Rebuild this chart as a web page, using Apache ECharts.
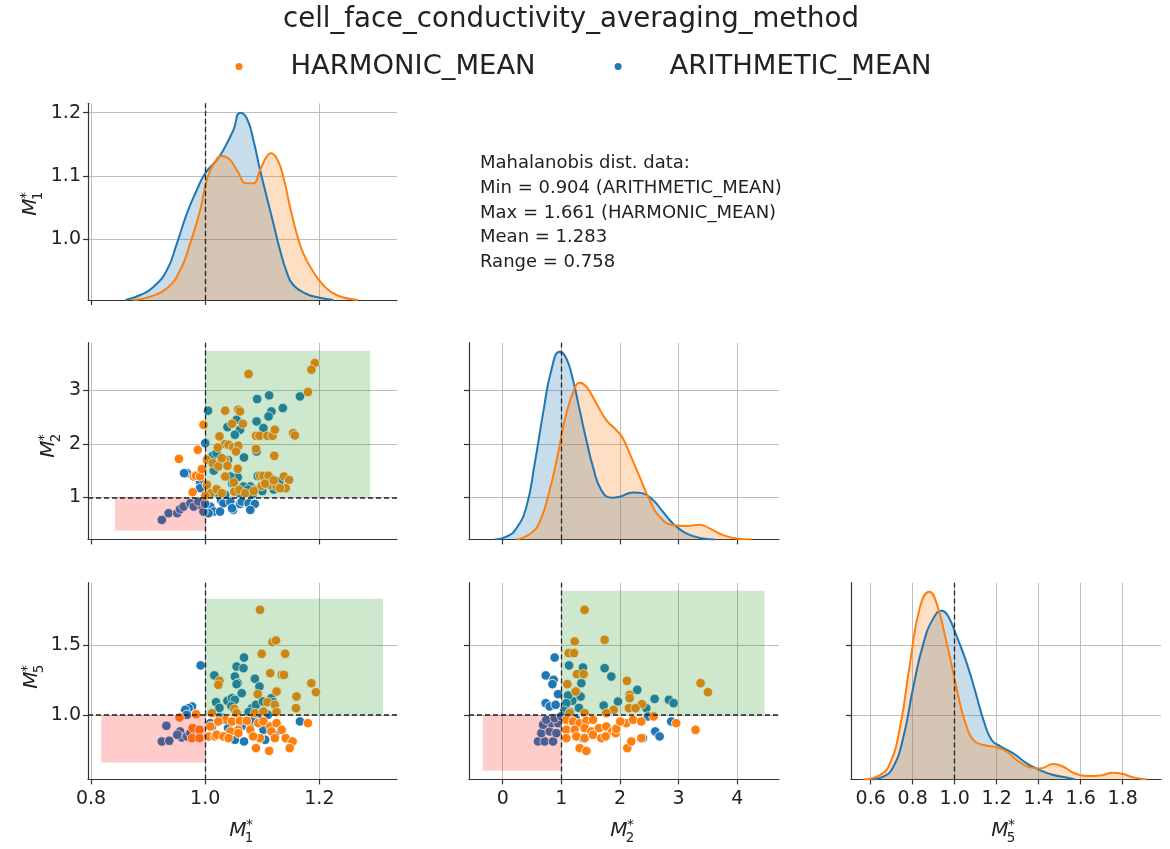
<!DOCTYPE html>
<html><head><meta charset="utf-8">
<script src="https://cdn.jsdelivr.net/npm/echarts@6/dist/echarts.min.js"></script>
<style>html,body{margin:0;padding:0;background:#fff}#c{width:1170px;height:849px}</style>
</head><body><div id="c"></div>
<script>
// ---------------- DATA ----------------
const seriesNames = ['HARMONIC_MEAN', 'ARITHMETIC_MEAN'];
const legendTitle = 'cell_face_conductivity_averaging_method';
const infoLines = ['Mahalanobis dist. data:', 'Min = 0.904 (ARITHMETIC_MEAN)', 'Max = 1.661 (HARMONIC_MEAN)', 'Mean = 1.283', 'Range = 0.758'];

const M1_ticks = [0.8, 1.0, 1.2];
const M2_ticks_x = [0, 1, 2, 3, 4];
const M5_ticks_x = [0.6, 0.8, 1.0, 1.2, 1.4, 1.6, 1.8];
const M1_ticks_y = [1.0, 1.1, 1.2];
const M2_ticks_y = [1, 2, 3];
const M5_ticks_y = [1.0, 1.5];

// rectangles [x0, y0, x1, y1]
const goodBox_M1_M2 = [1.0, 1.0, 1.289, 3.732];
const badBox_M1_M2 = [0.842, 0.385, 1.0, 1.0];
const goodBox_M1_M5 = [1.0, 1.0, 1.3115, 1.837];
const badBox_M1_M5 = [0.818, 0.656, 1.0, 1.0];
const goodBox_M2_M5 = [1.0, 1.0, 4.463, 1.894];
const badBox_M2_M5 = [-0.341, 0.598, 1.0, 1.0];

const harmonic_M1_M2 = [[1.192,3.503],[1.186,3.379],[1.180,2.963],[1.076,3.298],[1.035,2.615],[1.058,2.634],[1.061,2.602],[1.047,2.373],[1.066,2.373],[0.997,2.354],[1.025,2.137],[1.035,1.994],[1.041,1.981],[1.022,1.932],[1.049,1.938],[1.058,1.963],[1.054,1.857],[1.089,2.149],[1.095,2.149],[1.109,2.149],[1.118,2.149],[1.122,2.261],[1.154,2.199],[1.157,2.155],[1.089,1.907],[1.121,1.776],[0.987,1.888],[0.954,1.720],[1.003,1.702],[1.013,1.640],[1.023,1.578],[1.035,1.702],[1.039,1.590],[1.029,1.733],[1.057,1.534],[0.980,1.391],[0.984,1.404],[0.991,1.391],[0.994,1.528],[1.035,1.391],[1.003,1.236],[0.978,1.099],[1.010,1.081],[1.020,1.155],[1.029,1.081],[1.051,1.112],[1.060,1.143],[1.096,1.404],[1.102,1.404],[1.111,1.404],[1.114,1.236],[1.099,1.217],[1.125,1.205],[1.138,1.391],[1.147,1.329],[1.141,1.174],[1.131,1.174],[1.000,1.037],[1.070,1.080],[1.085,1.120],[1.105,1.260],[1.120,1.320],[1.050,1.280]];
const arithmetic_M1_M2 = [[1.112,2.901],[1.091,2.832],[1.166,2.882],[1.136,2.665],[1.116,2.602],[1.111,2.509],[1.005,2.615],[1.055,2.447],[1.090,2.416],[1.102,2.292],[1.061,2.261],[1.052,2.168],[1.039,2.311],[1.068,1.745],[1.090,1.857],[1.000,2.012],[1.013,1.776],[1.020,1.826],[1.057,1.379],[1.047,1.267],[1.067,1.205],[1.079,1.205],[1.073,1.112],[1.086,1.143],[0.968,1.453],[0.963,1.453],[0.991,1.298],[0.991,1.174],[1.028,0.944],[1.032,0.894],[1.044,0.925],[1.049,0.770],[1.061,0.882],[1.064,0.925],[1.076,0.894],[1.087,0.882],[1.079,0.770],[1.009,0.832],[1.015,0.739],[1.026,0.739],[1.006,0.708],[1.047,0.801],[0.924,0.584],[0.936,0.708],[0.951,0.708],[0.956,0.783],[0.962,0.832],[0.974,0.894],[0.980,0.832],[0.994,0.845],[0.997,0.739],[0.988,0.925],[1.000,0.882],[1.044,1.390],[1.092,1.400],[1.100,1.380],[1.105,1.290],[1.020,1.100],[1.035,1.050],[1.060,1.080],[1.075,1.150],[1.083,1.060],[1.100,1.120],[1.120,1.150],[1.130,1.300],[1.015,1.500],[1.025,1.620],[1.040,1.700]];

const harmonic_M1_M5 = [[1.096,1.757],[1.118,1.524],[1.124,1.536],[1.099,1.440],[1.140,1.440],[1.114,1.300],[1.134,1.288],[1.138,1.288],[1.025,1.245],[1.023,1.216],[1.092,1.149],[1.125,1.168],[1.109,1.091],[1.160,1.132],[1.159,1.048],[1.186,1.228],[1.194,1.163],[1.051,1.043],[1.122,1.072],[1.012,1.012],[1.055,1.012],[1.087,1.012],[1.102,1.024],[1.125,1.019],[0.955,0.981],[0.984,1.005],[0.978,0.904],[0.990,0.892],[0.977,0.832],[0.990,0.832],[1.006,0.844],[1.017,0.844],[1.020,0.856],[1.035,0.964],[1.047,0.952],[1.061,0.957],[1.073,0.957],[1.058,0.892],[1.044,0.880],[1.032,0.844],[1.058,0.868],[1.079,0.892],[1.093,0.940],[1.102,0.952],[1.096,0.832],[1.114,0.916],[1.116,0.880],[1.125,0.940],[1.134,0.892],[1.122,0.832],[1.141,0.832],[1.153,0.808],[1.148,0.760],[1.089,0.760],[1.112,0.740],[1.180,0.940],[1.084,0.844],[1.041,0.832],[1.023,0.952],[1.009,0.916]];
const arithmetic_M1_M5 = [[1.068,1.413],[1.055,1.348],[1.067,1.336],[1.016,1.284],[0.992,1.356],[1.052,1.276],[1.087,1.260],[1.095,1.204],[1.057,1.228],[1.064,1.156],[1.055,1.221],[1.019,1.091],[1.039,1.101],[1.047,1.120],[1.052,1.108],[1.082,1.048],[1.089,1.072],[1.101,1.096],[1.116,1.120],[1.119,1.091],[0.977,1.060],[0.971,1.048],[0.965,1.036],[1.009,0.940],[1.012,0.916],[1.026,0.988],[1.064,0.916],[1.079,0.940],[1.102,0.892],[1.105,0.820],[1.122,0.856],[1.052,0.820],[1.068,0.808],[1.166,0.952],[0.932,0.921],[0.924,0.808],[0.937,0.813],[0.956,0.880],[0.959,0.837],[0.968,0.844],[0.974,0.868],[0.951,0.856],[0.968,1.000],[1.025,1.050],[1.046,1.062],[1.076,1.020],[1.093,0.990],[1.110,1.000],[1.031,0.975],[1.058,0.955],[1.085,0.965],[1.040,0.905]];

const harmonic_M2_M5 = [[1.397,1.757],[1.227,1.529],[1.738,1.541],[1.125,1.445],[1.216,1.445],[1.267,1.293],[1.380,1.293],[1.102,1.221],[1.244,1.168],[2.119,1.245],[2.164,1.144],[2.164,1.120],[2.374,1.077],[1.892,1.036],[3.374,1.228],[3.499,1.163],[1.142,1.012],[1.397,1.012],[1.767,1.012],[2.153,1.048],[2.266,1.048],[1.085,0.964],[1.199,0.952],[1.312,0.940],[1.426,0.957],[1.539,0.964],[1.085,0.892],[1.227,0.892],[1.397,0.904],[1.511,0.880],[1.642,0.904],[1.767,0.916],[1.869,0.880],[1.926,0.868],[1.085,0.832],[1.256,0.844],[1.397,0.832],[1.539,0.856],[1.681,0.832],[1.755,0.844],[1.937,0.899],[2.107,0.940],[2.221,0.964],[2.363,0.952],[2.124,0.760],[2.193,0.808],[2.363,0.832],[2.959,0.940],[3.288,0.892],[1.312,0.760],[1.426,0.740],[2.573,0.988],[2.005,0.952]];
const arithmetic_M2_M5 = [[0.886,1.413],[0.733,1.284],[0.869,1.252],[0.847,1.221],[0.943,1.149],[1.131,1.356],[1.369,1.341],[1.341,1.228],[1.329,1.132],[1.187,1.101],[1.114,1.139],[1.085,1.084],[1.738,1.336],[1.852,1.276],[2.295,1.180],[2.590,1.115],[2.834,1.108],[2.914,1.084],[1.721,1.067],[1.965,1.096],[2.448,1.048],[0.733,1.084],[0.801,1.060],[0.903,1.072],[2.874,0.952],[2.601,0.880],[2.675,0.844],[2.476,0.988],[1.369,0.832],[2.391,0.832],[0.603,0.808],[0.716,0.808],[0.858,0.808],[0.659,0.868],[0.801,0.880],[0.915,0.868],[0.688,0.928],[0.830,0.940],[0.943,0.940],[0.744,0.964],[0.886,0.976],[1.050,1.030],[1.150,1.020],[1.250,0.970],[1.000,0.990],[1.300,1.050]];

// KDE curves [x, density]
const kde_M1_harmonic = [[0.8748,0],[0.9039,0.10],[0.9330,0.35],[0.9563,0.90],[0.9738,1.70],[0.9913,2.70],[1.0029,3.60],[1.0175,4.15],[1.0291,4.32],[1.0437,4.20],[1.0553,3.90],[1.0728,3.50],[1.0844,3.50],[1.0961,3.90],[1.1077,4.30],[1.1147,4.40],[1.1252,4.25],[1.1368,3.70],[1.1485,2.80],[1.1601,2.00],[1.1718,1.40],[1.1892,0.85],[1.2067,0.45],[1.2300,0.15],[1.2678,0]];
const kde_M1_arithmetic = [[0.8603,0],[0.8865,0.15],[0.9098,0.40],[0.9330,0.90],[0.9505,1.70],[0.9680,2.60],[0.9854,3.30],[1.0000,3.80],[1.0204,4.20],[1.0320,4.50],[1.0495,5.10],[1.0611,5.62],[1.0728,5.45],[1.0844,4.80],[1.0961,3.90],[1.1077,3.10],[1.1194,2.30],[1.1310,1.50],[1.1426,0.85],[1.1543,0.45],[1.1776,0.18],[1.2009,0.07],[1.2242,0]];
const kde_M2_harmonic = [[0.233,0],[0.461,0.16],[0.631,0.53],[0.801,1.48],[0.943,2.58],[1.085,3.78],[1.227,4.53],[1.312,4.70],[1.426,4.58],[1.596,4.08],[1.767,3.58],[1.937,3.28],[2.051,3.03],[2.164,2.58],[2.334,1.88],[2.505,1.18],[2.675,0.68],[2.902,0.43],[3.129,0.40],[3.357,0.44],[3.527,0.33],[3.754,0.13],[3.981,0.03],[4.237,0]];
const kde_M2_arithmetic = [[-0.136,0],[0.063,0.08],[0.233,0.33],[0.404,0.98],[0.546,2.28],[0.688,3.78],[0.830,5.08],[0.972,5.63],[1.085,5.43],[1.199,4.78],[1.312,3.88],[1.426,2.98],[1.539,2.18],[1.681,1.48],[1.852,1.25],[1.994,1.28],[2.221,1.41],[2.391,1.38],[2.562,1.18],[2.732,0.83],[2.902,0.48],[3.129,0.18],[3.413,0.03],[3.612,0]];
const kde_M5_harmonic = [[0.565,0],[0.644,0.13],[0.692,0.48],[0.740,1.58],[0.787,3.48],[0.835,5.18],[0.879,5.63],[0.914,5.28],[0.962,4.08],[0.994,3.18],[1.025,2.28],[1.057,1.58],[1.089,1.18],[1.137,1.03],[1.200,0.96],[1.248,0.83],[1.295,0.58],[1.359,0.36],[1.406,0.33],[1.470,0.46],[1.517,0.38],[1.565,0.20],[1.629,0.10],[1.692,0.12],[1.756,0.20],[1.803,0.16],[1.851,0.06],[1.914,0]];
const kde_M5_arithmetic = [[0.605,0],[0.660,0.08],[0.708,0.38],[0.756,1.28],[0.803,2.78],[0.851,4.08],[0.898,4.83],[0.938,5.06],[0.970,4.88],[1.010,4.28],[1.041,3.78],[1.073,3.18],[1.105,2.48],[1.137,1.78],[1.176,1.18],[1.216,1.00],[1.279,0.78],[1.343,0.48],[1.406,0.28],[1.470,0.13],[1.533,0.06],[1.573,0]];

// ---------------- STYLE / LAYOUT ----------------
const FONT = 'DejaVu Sans';
const TXT = '#222';
const AXC = '#333';
const GRIDC = '#bdbdbd';
const ORANGE = '#ff7f0e', BLUE = '#1f77b4';
const ORANGE_FILL = 'rgba(255,127,14,0.25)', BLUE_FILL = 'rgba(31,119,180,0.25)';
const GREEN_BOX = 'rgba(44,160,44,0.24)', RED_BOX = 'rgba(255,0,0,0.2)';

const colL = [88, 469, 851], colW = [309, 310, 310];
const rowT = [103.3, 342.7, 582.7], rowH = 196.7;
const grids = [
  [0,0],[1,0],[1,1],[2,0],[2,1],[2,2]
].map(([r,c]) => ({left: colL[c], top: rowT[r], width: colW[c], height: rowH, containLabel: false, outerBoundsMode: 'none'}));

const f1 = v => Number(v).toFixed(1), f0 = v => String(Math.round(v));
function axis(kind, gi, range, ticks, fmt, showLabels) {
  return {
    type: 'value', gridIndex: gi, min: range[0], max: range[1],
    axisLine: {show: true, onZero: false, lineStyle: {color: AXC, width: 1.2}},
    axisTick: {show: true, inside: false, length: 5, customValues: ticks, lineStyle: {color: AXC, width: 1.2}},
    axisLabel: {show: showLabels, customValues: ticks, formatter: fmt, fontSize: 19, fontFamily: FONT, color: TXT, margin: kind === 'x' ? 10 : 7},
    splitLine: {show: true, lineStyle: {color: GRIDC, width: 1}}
  };
}
const R_M1x = [0.7947, 1.336], R_M2x = [-0.5746, 4.711], R_M5x = [0.5062, 1.9824];
const R_M1y = [0.9037, 1.2147], R_M2y = [0.2216, 3.881], R_M5y = [0.5346, 1.9524];

const xAxes = [
  axis('x', 0, R_M1x, M1_ticks, f1, false),
  axis('x', 1, R_M1x, M1_ticks, f1, false),
  axis('x', 2, R_M2x, M2_ticks_x, f0, false),
  axis('x', 3, R_M1x, M1_ticks, f1, true),
  axis('x', 4, R_M2x, M2_ticks_x, f0, true),
  axis('x', 5, R_M5x, M5_ticks_x, f1, true)
];
const densAxis = gi => ({type: 'value', gridIndex: gi, min: 0, max: 5.9, show: false, splitLine: {show: false}});
const yAxes = [
  axis('y', 0, R_M1y, M1_ticks_y, f1, true),
  axis('y', 1, R_M2y, M2_ticks_y, f0, true),
  axis('y', 2, R_M2y, M2_ticks_y, f0, false),
  axis('y', 3, R_M5y, M5_ticks_y, f1, true),
  axis('y', 4, R_M5y, M5_ticks_y, f1, false),
  axis('y', 5, R_M5y, M5_ticks_y, f1, false),
  densAxis(0), densAxis(2), densAxis(5)
];

const dashV = {xAxis: 1, lineStyle: {type: [5, 3], color: '#222', width: 1.3}};
const dashH = {yAxis: 1, lineStyle: {type: [5, 3], color: '#222', width: 1.7}};
function markLines(items) {
  return {silent: true, symbol: ['none', 'none'], label: {show: false}, animation: false, data: items};
}
function scatter(name, data, gi, color) {
  return {type: 'scatter', name, data, xAxisIndex: gi, yAxisIndex: gi, symbolSize: 9.5, silent: true,
    itemStyle: {color, borderColor: '#fff', borderWidth: 0.8, opacity: 1}, z: 2};
}
function boxes(gi, good, bad) {
  return {type: 'custom', xAxisIndex: gi, yAxisIndex: gi, z: 3, silent: true, clip: true,
    encode: {x: [0, 2], y: [1, 3]},
    data: [good, bad],
    renderItem: (params, api) => {
      const a = api.coord([api.value(0), api.value(1)]);
      const b = api.coord([api.value(2), api.value(3)]);
      return {type: 'rect', shape: {x: Math.min(a[0], b[0]), y: Math.min(a[1], b[1]), width: Math.abs(b[0] - a[0]), height: Math.abs(b[1] - a[1])},
        style: {fill: params.dataIndex === 0 ? GREEN_BOX : RED_BOX}};
    },
    markLine: markLines([dashV, dashH])
  };
}
function kde(name, data, gi, yi, color, fill, withLine) {
  const s = {type: 'line', name, data, xAxisIndex: gi, yAxisIndex: yi, smooth: 0.5, showSymbol: false, symbol: 'none', silent: true,
    lineStyle: {color, width: 2}, itemStyle: {color}, areaStyle: {color: fill, opacity: 1}, z: 2};
  if (withLine) s.markLine = markLines([dashV]);
  return s;
}

const series = [
  scatter(seriesNames[1], arithmetic_M1_M2, 1, BLUE),
  scatter(seriesNames[1], arithmetic_M1_M5, 3, BLUE),
  scatter(seriesNames[1], arithmetic_M2_M5, 4, BLUE),
  scatter(seriesNames[0], harmonic_M1_M2, 1, ORANGE),
  scatter(seriesNames[0], harmonic_M1_M5, 3, ORANGE),
  scatter(seriesNames[0], harmonic_M2_M5, 4, ORANGE),
  boxes(1, goodBox_M1_M2, badBox_M1_M2),
  boxes(3, goodBox_M1_M5, badBox_M1_M5),
  boxes(4, goodBox_M2_M5, badBox_M2_M5),
  kde(seriesNames[1], kde_M1_arithmetic, 0, 6, BLUE, BLUE_FILL, true),
  kde(seriesNames[1], kde_M2_arithmetic, 2, 7, BLUE, BLUE_FILL, true),
  kde(seriesNames[1], kde_M5_arithmetic, 5, 8, BLUE, BLUE_FILL, true),
  kde(seriesNames[0], kde_M1_harmonic, 0, 6, ORANGE, ORANGE_FILL, false),
  kde(seriesNames[0], kde_M2_harmonic, 2, 7, ORANGE, ORANGE_FILL, false),
  kde(seriesNames[0], kde_M5_harmonic, 5, 8, ORANGE, ORANGE_FILL, false)
];

function mathLabel(cx, cy, sub, rot) {
  const t = (text, x, y, size, italic) => ({type: 'text', x, y, silent: true,
    style: {text, font: (italic ? 'italic ' : '') + size + 'px "' + FONT + '"', fill: TXT,
      align: 'center', verticalAlign: 'middle', textAlign: 'center', textVerticalAlign: 'middle'}});
  return {type: 'group', x: cx, y: cy, rotation: rot ? Math.PI / 2 : 0, silent: true,
    children: [t('M', 0, 0, 20, true), t('*', 11.5, -5, 14, false), t(sub, 11, 7.5, 13.5, false)]};
}

const option = {
  animation: false,
  backgroundColor: '#fff',
  title: {text: legendTitle, left: 566, top: 1, textAlign: 'center',
    textStyle: {fontSize: 27.6, fontWeight: 'normal', fontFamily: FONT, color: TXT}},
  legend: {data: seriesNames, left: 228.5, top: 48, icon: 'circle', itemWidth: 9, itemHeight: 9, itemGap: 77,
    selectedMode: false, textStyle: {fontSize: 27.4, fontFamily: FONT, color: TXT, padding: [0, 0, 0, 42]}},
  grid: grids,
  xAxis: xAxes,
  yAxis: yAxes,
  series,
  graphic: [
    {type: 'text', x: 480, y: 151, silent: true,
      style: {text: infoLines.join('\n'), font: '18px "' + FONT + '"', lineHeight: 24.75, fill: TXT,
        align: 'left', verticalAlign: 'top', textAlign: 'left', textVerticalAlign: 'top'}},
    mathLabel(238, 830.5, '1', false),
    mathLabel(619, 830.5, '2', false),
    mathLabel(1000, 830.5, '5', false),
    mathLabel(31, 207, '1', true),
    mathLabel(49, 449, '2', true),
    mathLabel(32, 680, '5', true)
  ]
};
const chart = echarts.init(document.getElementById('c'));
chart.setOption(option);
</script></body></html>
